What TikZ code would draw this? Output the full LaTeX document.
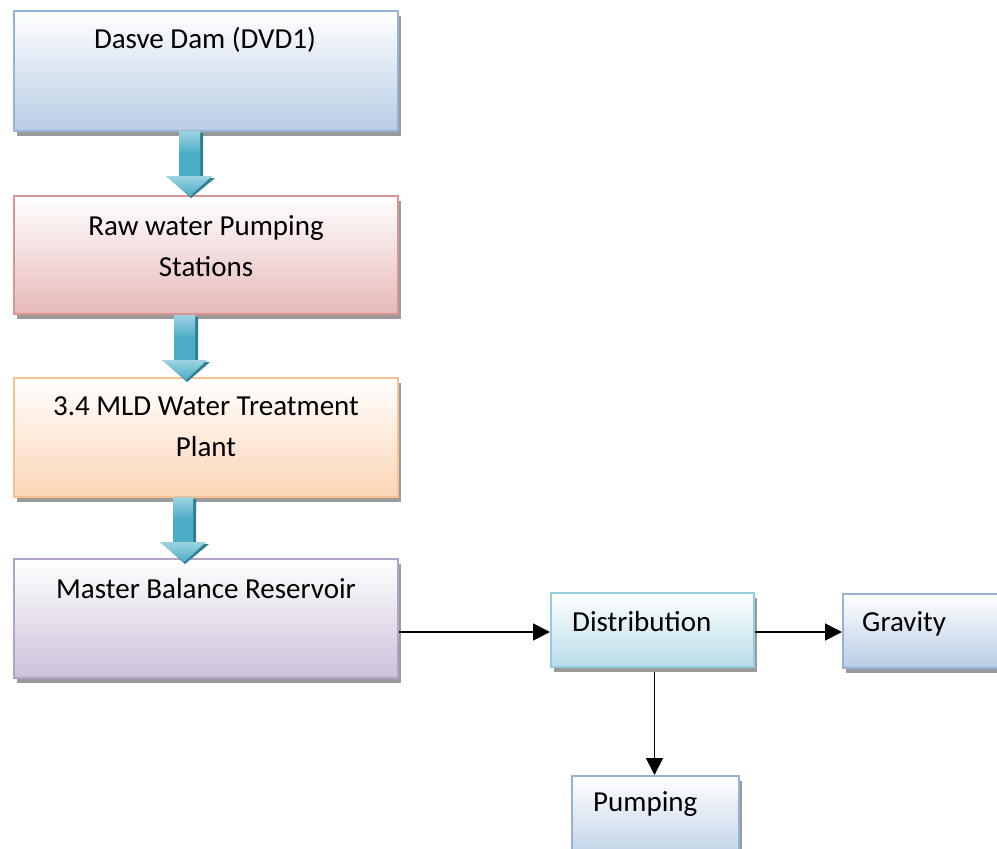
\documentclass[tikz,border=0pt]{standalone}
\usepackage{fontspec}
\setmainfont{Carlito}
\usetikzlibrary{arrows.meta,shadows,calc}
\definecolor{bluebd}{HTML}{95B3D7}\definecolor{bluebt}{HTML}{B8CCE4}
\definecolor{redbd}{HTML}{D99694}\definecolor{redbt}{HTML}{E6B9B8}
\definecolor{orgbd}{HTML}{FAC090}\definecolor{orgbt}{HTML}{FBD5B5}
\definecolor{purbd}{HTML}{B3A2C7}\definecolor{purbt}{HTML}{CCC1DA}
\definecolor{tealbd}{HTML}{93CDDD}\definecolor{tealbt}{HTML}{B7DDE8}
\definecolor{arrA}{HTML}{9ED4E2}\definecolor{arrB}{HTML}{4BACC6}\definecolor{arrD}{HTML}{2E7F93}
\definecolor{shd}{HTML}{9A9A9A}
\tikzset{
  boxbase/.style={rectangle, anchor=north west, line width=2pt, inner sep=0pt,
    drop shadow={shadow xshift=3pt, shadow yshift=-5pt, fill=shd, opacity=1}},
  bluebox/.style={boxbase, draw=bluebd, top color=white, bottom color=bluebt},
  redbox/.style={boxbase, draw=redbd, top color=white, bottom color=redbt},
  orgbox/.style={boxbase, draw=orgbd, top color=white, bottom color=orgbt},
  purbox/.style={boxbase, draw=purbd, top color=white, bottom color=purbt},
  tealbox/.style={boxbase, draw=tealbd, top color=white, bottom color=tealbt},
  lbl/.style={font=\fontsize{29}{41}\selectfont, inner sep=0pt, align=center},
  conn/.style={line width=1.7pt, -{Triangle[length=17pt,width=17pt]}},
  blockarrow/.style={top color=arrA, bottom color=arrB, middle color=arrB},
  blockshadow/.style={fill=arrD}
}
\begin{document}
\begin{tikzpicture}[x=1pt,y=-1pt]
\useasboundingbox (0,0) rectangle (997,849);
% boxes
\node[bluebox, minimum width=384pt, minimum height=120pt] (b1) at (13,10) {};
\node[redbox, minimum width=384pt, minimum height=118pt] (b2) at (13,195) {};
\node[orgbox, minimum width=384pt, minimum height=119pt] (b3) at (13,377) {};
\node[purbox, minimum width=384pt, minimum height=119pt] (b4) at (13,558) {};
\node[tealbox, minimum width=203pt, minimum height=74pt] (dist) at (550,592) {};
\node[bluebox, minimum width=170pt, minimum height=74pt] (grav) at (842,593) {};
\node[bluebox, minimum width=167pt, minimum height=90pt] (pump) at (571,775) {};
% texts
\node[lbl] (t1) at (205,40) {Dasve Dam (DVD1)};
\node[lbl] (t2) at (206,246) {Raw water Pumping\\Stations};
\node[lbl] (t3) at (206,427) {3.4 MLD Water Treatment\\Plant};
\node[lbl] (t4) at (206,589) {Master Balance Reservoir};
\node[lbl, anchor=west] (t5) at (572,622) {Distribution};
\node[lbl, anchor=west] (t6) at (862,624) {Gravity};
\node[lbl, anchor=west] (t7) at (593,804) {Pumping};
% block arrows
\foreach \sl/\sr/\ya/\yb/\hl/\hr/\tx/\ty in {179/200/131/176/166/212/190/196, 174/195/315/360/162/207/186/380, 173/193/497/542/160/206/184/562}{
  \fill[blockshadow] ($(\sl,\ya)+(3,2)$) -- ($(\sr,\ya)+(3,2)$) -- ($(\sr,\yb)+(3,2)$) -- ($(\hr,\yb)+(3,2)$) -- ($(\tx,\ty)+(1,2)$) -- ($(\hl,\yb)+(3,2)$) -- ($(\sl,\yb)+(3,2)$) -- cycle;
  \fill[arrB] (\sl,\ya) -- (\sr,\ya) -- (\sr,\yb) -- (\hr,\yb) -- (\tx,\ty) -- (\hl,\yb) -- (\sl,\yb) -- cycle;
  \shade[blockarrow] (\sl,\ya) -- (\sr,\ya) -- (\sr,\yb) -- (\sl,\yb) -- cycle;
  \shade[top color=arrA, bottom color=arrB] (\hl,\yb) -- (\hr,\yb) -- (\tx,\ty) -- cycle;
}
% connectors
\coordinate (yl) at (0,632);
\draw[conn] (b4.east |- yl) -- (dist.west |- yl);
\draw[conn] (dist.east |- yl) -- (grav.west |- yl);
\draw[conn] ($(dist.south)+(2,4)$) -- (pump.north -| {$(dist.south)+(2,4)$});
\end{tikzpicture}
\end{document}
